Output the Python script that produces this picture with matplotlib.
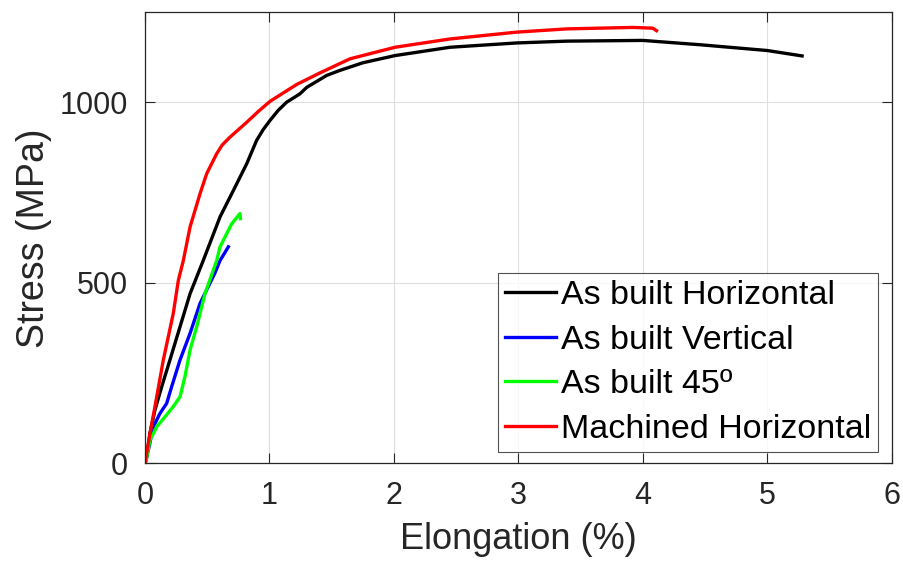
import matplotlib.pyplot as plt

plt.switch_backend('Agg')
plt.rcParams['font.family'] = ['Liberation Sans', 'DejaVu Sans']

# Elongation (%) and stress (MPa)
h_elong = [0, 0.01, 0.04, 0.08, 0.134, 0.2, 0.281, 0.362, 0.468, 0.603, 0.71, 0.817,
           0.897, 0.95, 1.004, 1.07, 1.139, 1.245, 1.30, 1.46, 1.567, 1.75, 2.009,
           2.45, 2.987, 3.39, 4.0, 4.46, 5.0, 5.28]
h_stress = [0, 9, 83, 148, 212, 286, 378, 470, 562, 683, 756, 830,
            895, 925, 950, 978, 1001, 1024, 1042, 1075, 1089, 1110, 1130,
            1153, 1165, 1170, 1172, 1160, 1144, 1129]

v_elong = [0, 0.027, 0.067, 0.12, 0.174, 0.214, 0.281, 0.362, 0.442, 0.56, 0.603, 0.67]
v_stress = [0, 37, 101, 138, 166, 212, 286, 360, 443, 526, 562, 600]

d_elong = [0, 0.01, 0.04, 0.094, 0.161, 0.227, 0.281, 0.321, 0.362, 0.415, 0.482,
           0.576, 0.603, 0.697, 0.763, 0.767]
d_stress = [0, 9, 64, 101, 129, 157, 184, 240, 314, 378, 470,
            562, 600, 664, 692, 678]

m_elong = [0, 0.04, 0.08, 0.147, 0.227, 0.268, 0.308, 0.362, 0.442, 0.496, 0.576,
           0.62, 0.683, 0.817, 0.91, 1.004, 1.219, 1.406, 1.647, 2.009, 2.45, 2.987,
           3.39, 3.92, 4.08, 4.11]
m_stress = [0, 83, 157, 286, 415, 507, 562, 655, 747, 803, 858,
            882, 904, 945, 975, 1003, 1050, 1082, 1121, 1153, 1176, 1195,
            1204, 1208, 1206, 1199]

fig = plt.figure(figsize=(9.04, 5.63), dpi=100)
ax = fig.add_axes([0.1604, 0.1771, 0.826, 0.8011])

lw = 2.4
ax.plot(h_elong, h_stress, color='black', lw=lw, label='As built Horizontal')
ax.plot(v_elong, v_stress, color='#0000ff', lw=lw, label='As built Vertical')
ax.plot(d_elong, d_stress, color='#00ff00', lw=lw, label='As built 45º')
ax.plot(m_elong, m_stress, color='#ff0000', lw=lw, label='Machined Horizontal')

ax.set_xlim(0, 6)
ax.set_ylim(0, 1250)
ax.set_xticks(range(0, 7))
ax.set_yticks([0, 500, 1000])

ax.grid(True, color='#dfdfdf', lw=0.8)
ax.set_axisbelow(True)
ax.tick_params(direction='in', top=True, right=True, length=7, width=0.8,
               colors='#262626', labelsize=22)
ax.tick_params(axis='x', pad=13)
ax.tick_params(axis='y', pad=12)
for spine in ax.spines.values():
    spine.set_edgecolor('#262626')
    spine.set_linewidth(0.9)

ax.set_xlabel('Elongation (%)', fontsize=26, color='#262626', labelpad=8)
ax.set_ylabel('Stress (MPa)', fontsize=27, color='#262626', labelpad=6)

leg = ax.legend(loc='lower right', bbox_to_anchor=(0.982, 0.026), fontsize=24.5,
                frameon=True, fancybox=False, edgecolor='#262626',
                handlelength=1.5, handletextpad=0.15, labelspacing=0.4,
                borderpad=0.2, borderaxespad=0)
leg.get_frame().set_linewidth(0.8)

fig.savefig('out.png', dpi=100)
